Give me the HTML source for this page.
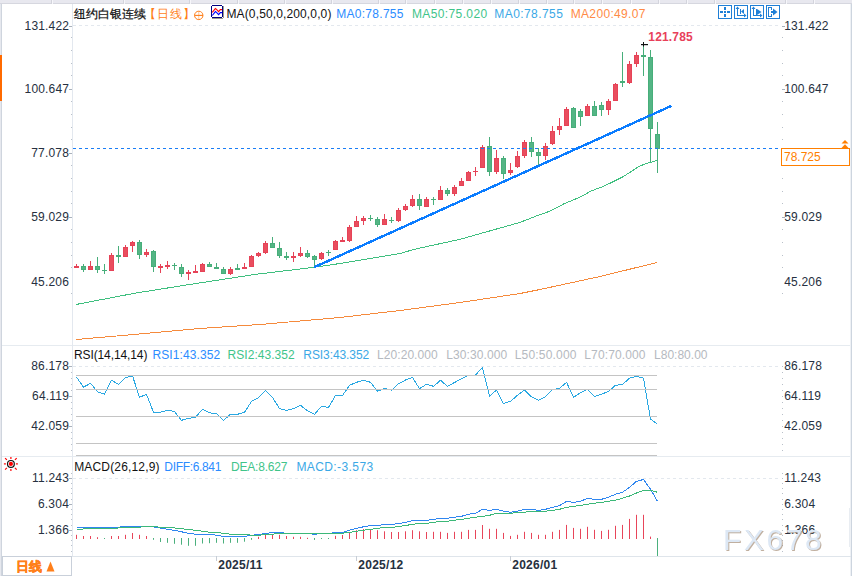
<!DOCTYPE html>
<html><head><meta charset="utf-8">
<style>
html,body{margin:0;padding:0;background:#fff;}
body{width:852px;height:576px;overflow:hidden;position:relative;font-family:"Liberation Sans",sans-serif;}
svg{position:absolute;left:0;top:0;}
svg text{font-family:"Liberation Sans",sans-serif;}
</style></head><body>
<svg width="852" height="576" viewBox="0 0 852 576">
<rect x="0" y="0" width="852" height="3" fill="#e8e8ef"/>
<rect x="0" y="3" width="852" height="1" fill="#d6d7df"/>
<rect x="51" y="0" width="1" height="4" fill="#d3d4dc"/><rect x="52" y="0" width="1" height="4" fill="#f6f6fa"/>
<rect x="123" y="0" width="1" height="4" fill="#d3d4dc"/><rect x="124" y="0" width="1" height="4" fill="#f6f6fa"/>
<rect x="189" y="0" width="1" height="4" fill="#d3d4dc"/><rect x="190" y="0" width="1" height="4" fill="#f6f6fa"/>
<rect x="237" y="0" width="1" height="4" fill="#d3d4dc"/><rect x="238" y="0" width="1" height="4" fill="#f6f6fa"/>
<rect x="284" y="0" width="1" height="4" fill="#d3d4dc"/><rect x="285" y="0" width="1" height="4" fill="#f6f6fa"/>
<rect x="331" y="0" width="1" height="4" fill="#d3d4dc"/><rect x="332" y="0" width="1" height="4" fill="#f6f6fa"/>
<rect x="378" y="0" width="1" height="4" fill="#d3d4dc"/><rect x="379" y="0" width="1" height="4" fill="#f6f6fa"/>
<rect x="405" y="0" width="1" height="4" fill="#d3d4dc"/><rect x="406" y="0" width="1" height="4" fill="#f6f6fa"/>
<rect x="434" y="0" width="1" height="4" fill="#d3d4dc"/><rect x="435" y="0" width="1" height="4" fill="#f6f6fa"/>
<rect x="462" y="0" width="1" height="4" fill="#d3d4dc"/><rect x="463" y="0" width="1" height="4" fill="#f6f6fa"/>
<rect x="490" y="0" width="1" height="4" fill="#d3d4dc"/><rect x="491" y="0" width="1" height="4" fill="#f6f6fa"/>
<rect x="518" y="0" width="1" height="4" fill="#d3d4dc"/><rect x="519" y="0" width="1" height="4" fill="#f6f6fa"/>
<rect x="546" y="0" width="1" height="4" fill="#d3d4dc"/><rect x="547" y="0" width="1" height="4" fill="#f6f6fa"/>
<rect x="573" y="0" width="1" height="4" fill="#d3d4dc"/><rect x="574" y="0" width="1" height="4" fill="#f6f6fa"/>
<rect x="601" y="0" width="1" height="4" fill="#d3d4dc"/><rect x="602" y="0" width="1" height="4" fill="#f6f6fa"/>
<rect x="630" y="0" width="1" height="4" fill="#d3d4dc"/><rect x="631" y="0" width="1" height="4" fill="#f6f6fa"/>
<rect x="658" y="0" width="1" height="4" fill="#d3d4dc"/><rect x="659" y="0" width="1" height="4" fill="#f6f6fa"/>
<rect x="686" y="0" width="1" height="4" fill="#d3d4dc"/><rect x="687" y="0" width="1" height="4" fill="#f6f6fa"/>
<rect x="714" y="0" width="1" height="4" fill="#d3d4dc"/><rect x="715" y="0" width="1" height="4" fill="#f6f6fa"/>
<rect x="785" y="0" width="1" height="4" fill="#d3d4dc"/><rect x="786" y="0" width="1" height="4" fill="#f6f6fa"/>
<rect x="813" y="0" width="1" height="4" fill="#d3d4dc"/><rect x="814" y="0" width="1" height="4" fill="#f6f6fa"/>
<rect x="0" y="4" width="1" height="572" fill="#e6e8ee"/><rect x="1" y="4" width="1" height="572" fill="#cfd5de"/>
<rect x="0" y="55" width="2" height="46" fill="#ff6a00"/>
<rect x="850" y="4" width="1" height="572" fill="#eef1f5"/><rect x="851" y="4" width="1" height="572" fill="#cdd5df"/>
<rect x="2" y="345" width="848" height="1" fill="#e6ebf0"/>
<rect x="2" y="456" width="848" height="1" fill="#e6ebf0"/>
<rect x="2" y="556" width="849" height="1" fill="#dfe5eb"/>
<rect x="849" y="508" width="1" height="39" fill="#e9edf2"/>
<rect x="72" y="4" width="1" height="552" fill="#e3e8ef"/>
<line x1="73" y1="25.5" x2="780" y2="25.5" stroke="#e3e8ee" stroke-width="1" stroke-dasharray="3 3"/>
<line x1="73" y1="366.5" x2="780" y2="366.5" stroke="#e3e8ee" stroke-width="1" stroke-dasharray="3 3"/>
<line x1="73" y1="478.5" x2="780" y2="478.5" stroke="#e3e8ee" stroke-width="1" stroke-dasharray="3 3"/>
<rect x="71" y="37" width="1" height="1" fill="#b9c0c9"/><rect x="782" y="37" width="1" height="1" fill="#b9c0c9"/><rect x="71" y="50" width="1" height="1" fill="#b9c0c9"/><rect x="782" y="50" width="1" height="1" fill="#b9c0c9"/><rect x="71" y="63" width="1" height="1" fill="#b9c0c9"/><rect x="782" y="63" width="1" height="1" fill="#b9c0c9"/><rect x="71" y="75" width="1" height="1" fill="#b9c0c9"/><rect x="782" y="75" width="1" height="1" fill="#b9c0c9"/><rect x="71" y="101" width="1" height="1" fill="#b9c0c9"/><rect x="782" y="101" width="1" height="1" fill="#b9c0c9"/><rect x="71" y="114" width="1" height="1" fill="#b9c0c9"/><rect x="782" y="114" width="1" height="1" fill="#b9c0c9"/><rect x="71" y="127" width="1" height="1" fill="#b9c0c9"/><rect x="782" y="127" width="1" height="1" fill="#b9c0c9"/><rect x="71" y="139" width="1" height="1" fill="#b9c0c9"/><rect x="782" y="139" width="1" height="1" fill="#b9c0c9"/><rect x="71" y="165" width="1" height="1" fill="#b9c0c9"/><rect x="782" y="165" width="1" height="1" fill="#b9c0c9"/><rect x="71" y="178" width="1" height="1" fill="#b9c0c9"/><rect x="782" y="178" width="1" height="1" fill="#b9c0c9"/><rect x="71" y="191" width="1" height="1" fill="#b9c0c9"/><rect x="782" y="191" width="1" height="1" fill="#b9c0c9"/><rect x="71" y="203" width="1" height="1" fill="#b9c0c9"/><rect x="782" y="203" width="1" height="1" fill="#b9c0c9"/><rect x="71" y="229" width="1" height="1" fill="#b9c0c9"/><rect x="782" y="229" width="1" height="1" fill="#b9c0c9"/><rect x="71" y="242" width="1" height="1" fill="#b9c0c9"/><rect x="782" y="242" width="1" height="1" fill="#b9c0c9"/><rect x="71" y="255" width="1" height="1" fill="#b9c0c9"/><rect x="782" y="255" width="1" height="1" fill="#b9c0c9"/><rect x="71" y="267" width="1" height="1" fill="#b9c0c9"/><rect x="782" y="267" width="1" height="1" fill="#b9c0c9"/><rect x="71" y="293" width="1" height="1" fill="#b9c0c9"/><rect x="782" y="293" width="1" height="1" fill="#b9c0c9"/><rect x="69" y="26" width="3" height="1" fill="#a9b1bb"/><rect x="782" y="26" width="3" height="1" fill="#a9b1bb"/><rect x="69" y="89" width="3" height="1" fill="#a9b1bb"/><rect x="782" y="89" width="3" height="1" fill="#a9b1bb"/><rect x="69" y="153" width="3" height="1" fill="#a9b1bb"/><rect x="782" y="153" width="3" height="1" fill="#a9b1bb"/><rect x="69" y="217" width="3" height="1" fill="#a9b1bb"/><rect x="782" y="217" width="3" height="1" fill="#a9b1bb"/><rect x="69" y="366" width="3" height="1" fill="#a9b1bb"/><rect x="782" y="366" width="1" height="1" fill="#b9c0c9"/><rect x="71" y="372" width="1" height="1" fill="#b9c0c9"/><rect x="782" y="372" width="1" height="1" fill="#b9c0c9"/><rect x="71" y="378" width="1" height="1" fill="#b9c0c9"/><rect x="782" y="378" width="1" height="1" fill="#b9c0c9"/><rect x="71" y="384" width="1" height="1" fill="#b9c0c9"/><rect x="782" y="384" width="1" height="1" fill="#b9c0c9"/><rect x="71" y="390" width="1" height="1" fill="#b9c0c9"/><rect x="782" y="390" width="1" height="1" fill="#b9c0c9"/><rect x="69" y="396" width="3" height="1" fill="#a9b1bb"/><rect x="782" y="396" width="1" height="1" fill="#b9c0c9"/><rect x="71" y="402" width="1" height="1" fill="#b9c0c9"/><rect x="782" y="402" width="1" height="1" fill="#b9c0c9"/><rect x="71" y="408" width="1" height="1" fill="#b9c0c9"/><rect x="782" y="408" width="1" height="1" fill="#b9c0c9"/><rect x="71" y="414" width="1" height="1" fill="#b9c0c9"/><rect x="782" y="414" width="1" height="1" fill="#b9c0c9"/><rect x="71" y="420" width="1" height="1" fill="#b9c0c9"/><rect x="782" y="420" width="1" height="1" fill="#b9c0c9"/><rect x="69" y="426" width="3" height="1" fill="#a9b1bb"/><rect x="782" y="426" width="1" height="1" fill="#b9c0c9"/><rect x="71" y="432" width="1" height="1" fill="#b9c0c9"/><rect x="782" y="432" width="1" height="1" fill="#b9c0c9"/><rect x="71" y="438" width="1" height="1" fill="#b9c0c9"/><rect x="782" y="438" width="1" height="1" fill="#b9c0c9"/><rect x="71" y="444" width="1" height="1" fill="#b9c0c9"/><rect x="782" y="444" width="1" height="1" fill="#b9c0c9"/><rect x="71" y="450" width="1" height="1" fill="#b9c0c9"/><rect x="782" y="450" width="1" height="1" fill="#b9c0c9"/><rect x="71" y="473" width="1" height="1" fill="#b9c0c9"/><rect x="782" y="473" width="1" height="1" fill="#b9c0c9"/><rect x="69" y="478" width="3" height="1" fill="#a9b1bb"/><rect x="782" y="478" width="1" height="1" fill="#b9c0c9"/><rect x="71" y="483" width="1" height="1" fill="#b9c0c9"/><rect x="782" y="483" width="1" height="1" fill="#b9c0c9"/><rect x="71" y="488" width="1" height="1" fill="#b9c0c9"/><rect x="782" y="488" width="1" height="1" fill="#b9c0c9"/><rect x="71" y="493" width="1" height="1" fill="#b9c0c9"/><rect x="782" y="493" width="1" height="1" fill="#b9c0c9"/><rect x="71" y="499" width="1" height="1" fill="#b9c0c9"/><rect x="782" y="499" width="1" height="1" fill="#b9c0c9"/><rect x="69" y="504" width="3" height="1" fill="#a9b1bb"/><rect x="782" y="504" width="1" height="1" fill="#b9c0c9"/><rect x="71" y="509" width="1" height="1" fill="#b9c0c9"/><rect x="782" y="509" width="1" height="1" fill="#b9c0c9"/><rect x="71" y="514" width="1" height="1" fill="#b9c0c9"/><rect x="782" y="514" width="1" height="1" fill="#b9c0c9"/><rect x="71" y="519" width="1" height="1" fill="#b9c0c9"/><rect x="782" y="519" width="1" height="1" fill="#b9c0c9"/><rect x="71" y="525" width="1" height="1" fill="#b9c0c9"/><rect x="782" y="525" width="1" height="1" fill="#b9c0c9"/><rect x="69" y="530" width="3" height="1" fill="#a9b1bb"/><rect x="782" y="530" width="1" height="1" fill="#b9c0c9"/><rect x="71" y="535" width="1" height="1" fill="#b9c0c9"/><rect x="782" y="535" width="1" height="1" fill="#b9c0c9"/><rect x="71" y="540" width="1" height="1" fill="#b9c0c9"/><rect x="782" y="540" width="1" height="1" fill="#b9c0c9"/><rect x="71" y="545" width="1" height="1" fill="#b9c0c9"/><rect x="782" y="545" width="1" height="1" fill="#b9c0c9"/><rect x="71" y="551" width="1" height="1" fill="#b9c0c9"/><rect x="782" y="551" width="1" height="1" fill="#b9c0c9"/>
<polyline points="76.0,339.5 134.0,334.5 200.0,328.5 260.0,324.5 340.0,317.5 400.0,310.5 460.0,302.5 520.0,293.5 540.0,289.5 600.0,276.5 657.0,262.5" fill="none" stroke="#f58a3c" stroke-width="1.0" stroke-linejoin="round" shape-rendering="crispEdges"/>
<polyline points="76.0,304.5 136.0,293.0 196.0,283.5 256.0,274.3 314.0,267.3 340.0,263.5 400.0,253.5 414.0,249.4 460.0,239.3 520.0,222.4 535.6,216.3 549.5,211.3 565.0,203.3 580.0,197.2 591.1,191.0 601.7,187.0 612.2,182.2 622.8,176.9 633.4,170.1 638.6,166.7 646.0,163.5 650.3,162.5 657.1,160.3" fill="none" stroke="#3fbf7f" stroke-width="1.0" stroke-linejoin="round" shape-rendering="crispEdges"/>
<g shape-rendering="crispEdges"><rect x="76" y="264" width="1" height="4" fill="#e64257"/><rect x="74" y="266" width="5" height="2" fill="#e64257"/><rect x="83" y="264" width="1" height="8" fill="#47ae7a"/><rect x="81" y="266" width="5" height="4" fill="#47ae7a"/><rect x="82" y="267" width="3" height="2" fill="#54b585"/><rect x="90" y="261" width="1" height="9" fill="#e64257"/><rect x="88" y="266" width="5" height="4" fill="#e64257"/><rect x="89" y="267" width="3" height="2" fill="#e94e5e"/><rect x="97" y="257" width="1" height="16" fill="#47ae7a"/><rect x="95" y="266" width="5" height="4" fill="#47ae7a"/><rect x="96" y="267" width="3" height="2" fill="#54b585"/><rect x="104" y="264" width="1" height="10" fill="#47ae7a"/><rect x="102" y="270" width="5" height="1" fill="#47ae7a"/><rect x="111" y="253" width="1" height="18" fill="#e64257"/><rect x="109" y="255" width="5" height="16" fill="#e64257"/><rect x="110" y="256" width="3" height="14" fill="#e94e5e"/><rect x="118" y="246" width="1" height="17" fill="#47ae7a"/><rect x="116" y="255" width="5" height="2" fill="#47ae7a"/><rect x="125" y="245" width="1" height="12" fill="#e64257"/><rect x="123" y="247" width="5" height="10" fill="#e64257"/><rect x="124" y="248" width="3" height="8" fill="#e94e5e"/><rect x="132" y="241" width="1" height="11" fill="#e64257"/><rect x="130" y="242" width="5" height="4" fill="#e64257"/><rect x="131" y="243" width="3" height="2" fill="#e94e5e"/><rect x="139" y="240" width="1" height="19" fill="#47ae7a"/><rect x="137" y="242" width="5" height="13" fill="#47ae7a"/><rect x="138" y="243" width="3" height="11" fill="#54b585"/><rect x="146" y="249" width="1" height="8" fill="#e64257"/><rect x="144" y="252" width="5" height="3" fill="#e64257"/><rect x="145" y="253" width="3" height="1" fill="#e94e5e"/><rect x="153" y="250" width="1" height="22" fill="#47ae7a"/><rect x="151" y="251" width="5" height="16" fill="#47ae7a"/><rect x="152" y="252" width="3" height="14" fill="#54b585"/><rect x="160" y="264" width="1" height="9" fill="#e64257"/><rect x="158" y="266" width="5" height="2" fill="#e64257"/><rect x="167" y="261" width="1" height="8" fill="#e64257"/><rect x="165" y="265" width="5" height="2" fill="#e64257"/><rect x="174" y="263" width="1" height="7" fill="#47ae7a"/><rect x="172" y="265" width="5" height="1" fill="#47ae7a"/><rect x="181" y="264" width="1" height="13" fill="#47ae7a"/><rect x="179" y="267" width="5" height="7" fill="#47ae7a"/><rect x="180" y="268" width="3" height="5" fill="#54b585"/><rect x="188" y="270" width="1" height="10" fill="#e64257"/><rect x="186" y="272" width="5" height="2" fill="#e64257"/><rect x="195" y="265" width="1" height="8" fill="#e64257"/><rect x="193" y="271" width="5" height="2" fill="#e64257"/><rect x="202" y="263" width="1" height="9" fill="#e64257"/><rect x="200" y="264" width="5" height="8" fill="#e64257"/><rect x="201" y="265" width="3" height="6" fill="#e94e5e"/><rect x="209" y="262" width="1" height="5" fill="#47ae7a"/><rect x="207" y="264" width="5" height="3" fill="#47ae7a"/><rect x="208" y="265" width="3" height="1" fill="#54b585"/><rect x="216" y="263" width="1" height="6" fill="#47ae7a"/><rect x="214" y="267" width="5" height="2" fill="#47ae7a"/><rect x="223" y="267" width="1" height="7" fill="#47ae7a"/><rect x="221" y="269" width="5" height="5" fill="#47ae7a"/><rect x="222" y="270" width="3" height="3" fill="#54b585"/><rect x="230" y="267" width="1" height="8" fill="#e64257"/><rect x="228" y="269" width="5" height="5" fill="#e64257"/><rect x="229" y="270" width="3" height="3" fill="#e94e5e"/><rect x="237" y="264" width="1" height="6" fill="#47ae7a"/><rect x="235" y="268" width="5" height="2" fill="#47ae7a"/><rect x="244" y="263" width="1" height="6" fill="#e64257"/><rect x="242" y="267" width="5" height="2" fill="#e64257"/><rect x="251" y="255" width="1" height="12" fill="#e64257"/><rect x="249" y="256" width="5" height="11" fill="#e64257"/><rect x="250" y="257" width="3" height="9" fill="#e94e5e"/><rect x="258" y="252" width="1" height="5" fill="#e64257"/><rect x="256" y="253" width="5" height="3" fill="#e64257"/><rect x="257" y="254" width="3" height="1" fill="#e94e5e"/><rect x="265" y="241" width="1" height="13" fill="#e64257"/><rect x="263" y="243" width="5" height="10" fill="#e64257"/><rect x="264" y="244" width="3" height="8" fill="#e94e5e"/><rect x="272" y="237" width="1" height="11" fill="#47ae7a"/><rect x="270" y="243" width="5" height="5" fill="#47ae7a"/><rect x="271" y="244" width="3" height="3" fill="#54b585"/><rect x="279" y="242" width="1" height="16" fill="#47ae7a"/><rect x="277" y="248" width="5" height="8" fill="#47ae7a"/><rect x="278" y="249" width="3" height="6" fill="#54b585"/><rect x="286" y="252" width="1" height="8" fill="#47ae7a"/><rect x="284" y="256" width="5" height="2" fill="#47ae7a"/><rect x="293" y="252" width="1" height="10" fill="#e64257"/><rect x="291" y="256" width="5" height="2" fill="#e64257"/><rect x="300" y="247" width="1" height="10" fill="#e64257"/><rect x="298" y="253" width="5" height="3" fill="#e64257"/><rect x="299" y="254" width="3" height="1" fill="#e94e5e"/><rect x="307" y="250" width="1" height="8" fill="#47ae7a"/><rect x="305" y="253" width="5" height="4" fill="#47ae7a"/><rect x="306" y="254" width="3" height="2" fill="#54b585"/><rect x="314" y="255" width="1" height="12" fill="#47ae7a"/><rect x="312" y="256" width="5" height="4" fill="#47ae7a"/><rect x="313" y="257" width="3" height="2" fill="#54b585"/><rect x="321" y="252" width="1" height="8" fill="#e64257"/><rect x="319" y="253" width="5" height="6" fill="#e64257"/><rect x="320" y="254" width="3" height="4" fill="#e94e5e"/><rect x="328" y="250" width="1" height="6" fill="#47ae7a"/><rect x="326" y="252" width="5" height="1" fill="#47ae7a"/><rect x="335" y="240" width="1" height="10" fill="#e64257"/><rect x="333" y="241" width="5" height="9" fill="#e64257"/><rect x="334" y="242" width="3" height="7" fill="#e94e5e"/><rect x="342" y="237" width="1" height="5" fill="#e64257"/><rect x="340" y="240" width="5" height="2" fill="#e64257"/><rect x="349" y="225" width="1" height="17" fill="#e64257"/><rect x="347" y="227" width="5" height="14" fill="#e64257"/><rect x="348" y="228" width="3" height="12" fill="#e94e5e"/><rect x="356" y="216" width="1" height="11" fill="#e64257"/><rect x="354" y="221" width="5" height="6" fill="#e64257"/><rect x="355" y="222" width="3" height="4" fill="#e94e5e"/><rect x="363" y="216" width="1" height="9" fill="#e64257"/><rect x="361" y="218" width="5" height="3" fill="#e64257"/><rect x="362" y="219" width="3" height="1" fill="#e94e5e"/><rect x="370" y="215" width="1" height="6" fill="#47ae7a"/><rect x="368" y="218" width="5" height="1" fill="#47ae7a"/><rect x="377" y="217" width="1" height="10" fill="#47ae7a"/><rect x="375" y="219" width="5" height="6" fill="#47ae7a"/><rect x="376" y="220" width="3" height="4" fill="#54b585"/><rect x="384" y="214" width="1" height="11" fill="#e64257"/><rect x="382" y="219" width="5" height="6" fill="#e64257"/><rect x="383" y="220" width="3" height="4" fill="#e94e5e"/><rect x="391" y="217" width="1" height="6" fill="#47ae7a"/><rect x="389" y="220" width="5" height="1" fill="#47ae7a"/><rect x="398" y="208" width="1" height="14" fill="#e64257"/><rect x="396" y="210" width="5" height="11" fill="#e64257"/><rect x="397" y="211" width="3" height="9" fill="#e94e5e"/><rect x="405" y="204" width="1" height="7" fill="#e64257"/><rect x="403" y="206" width="5" height="4" fill="#e64257"/><rect x="404" y="207" width="3" height="2" fill="#e94e5e"/><rect x="412" y="195" width="1" height="12" fill="#e64257"/><rect x="410" y="199" width="5" height="7" fill="#e64257"/><rect x="411" y="200" width="3" height="5" fill="#e94e5e"/><rect x="419" y="194" width="1" height="16" fill="#47ae7a"/><rect x="417" y="199" width="5" height="7" fill="#47ae7a"/><rect x="418" y="200" width="3" height="5" fill="#54b585"/><rect x="426" y="197" width="1" height="10" fill="#e64257"/><rect x="424" y="199" width="5" height="8" fill="#e64257"/><rect x="425" y="200" width="3" height="6" fill="#e94e5e"/><rect x="433" y="197" width="1" height="8" fill="#47ae7a"/><rect x="431" y="199" width="5" height="1" fill="#47ae7a"/><rect x="440" y="186" width="1" height="14" fill="#e64257"/><rect x="438" y="190" width="5" height="10" fill="#e64257"/><rect x="439" y="191" width="3" height="8" fill="#e94e5e"/><rect x="447" y="188" width="1" height="8" fill="#47ae7a"/><rect x="445" y="190" width="5" height="4" fill="#47ae7a"/><rect x="446" y="191" width="3" height="2" fill="#54b585"/><rect x="454" y="185" width="1" height="11" fill="#e64257"/><rect x="452" y="187" width="5" height="7" fill="#e64257"/><rect x="453" y="188" width="3" height="5" fill="#e94e5e"/><rect x="461" y="178" width="1" height="8" fill="#e64257"/><rect x="459" y="181" width="5" height="5" fill="#e64257"/><rect x="460" y="182" width="3" height="3" fill="#e94e5e"/><rect x="468" y="171" width="1" height="10" fill="#e64257"/><rect x="466" y="172" width="5" height="9" fill="#e64257"/><rect x="467" y="173" width="3" height="7" fill="#e94e5e"/><rect x="475" y="167" width="1" height="9" fill="#e64257"/><rect x="473" y="171" width="5" height="1" fill="#e64257"/><rect x="482" y="145" width="1" height="23" fill="#e64257"/><rect x="480" y="147" width="5" height="21" fill="#e64257"/><rect x="481" y="148" width="3" height="19" fill="#e94e5e"/><rect x="489" y="137" width="1" height="39" fill="#47ae7a"/><rect x="487" y="146" width="5" height="26" fill="#47ae7a"/><rect x="488" y="147" width="3" height="24" fill="#54b585"/><rect x="496" y="150" width="1" height="24" fill="#e64257"/><rect x="494" y="158" width="5" height="14" fill="#e64257"/><rect x="495" y="159" width="3" height="12" fill="#e94e5e"/><rect x="503" y="156" width="1" height="23" fill="#47ae7a"/><rect x="501" y="158" width="5" height="16" fill="#47ae7a"/><rect x="502" y="159" width="3" height="14" fill="#54b585"/><rect x="510" y="163" width="1" height="12" fill="#e64257"/><rect x="508" y="170" width="5" height="3" fill="#e64257"/><rect x="509" y="171" width="3" height="1" fill="#e94e5e"/><rect x="517" y="151" width="1" height="17" fill="#e64257"/><rect x="515" y="156" width="5" height="11" fill="#e64257"/><rect x="516" y="157" width="3" height="9" fill="#e94e5e"/><rect x="524" y="140" width="1" height="18" fill="#e64257"/><rect x="522" y="142" width="5" height="14" fill="#e64257"/><rect x="523" y="143" width="3" height="12" fill="#e94e5e"/><rect x="531" y="137" width="1" height="20" fill="#47ae7a"/><rect x="529" y="142" width="5" height="10" fill="#47ae7a"/><rect x="530" y="143" width="3" height="8" fill="#54b585"/><rect x="538" y="148" width="1" height="17" fill="#47ae7a"/><rect x="536" y="152" width="5" height="4" fill="#47ae7a"/><rect x="537" y="153" width="3" height="2" fill="#54b585"/><rect x="545" y="143" width="1" height="17" fill="#e64257"/><rect x="543" y="146" width="5" height="10" fill="#e64257"/><rect x="544" y="147" width="3" height="8" fill="#e94e5e"/><rect x="552" y="126" width="1" height="19" fill="#e64257"/><rect x="550" y="131" width="5" height="13" fill="#e64257"/><rect x="551" y="132" width="3" height="11" fill="#e94e5e"/><rect x="559" y="118" width="1" height="17" fill="#e64257"/><rect x="557" y="126" width="5" height="4" fill="#e64257"/><rect x="558" y="127" width="3" height="2" fill="#e94e5e"/><rect x="566" y="107" width="1" height="19" fill="#e64257"/><rect x="564" y="109" width="5" height="17" fill="#e64257"/><rect x="565" y="110" width="3" height="15" fill="#e94e5e"/><rect x="573" y="107" width="1" height="21" fill="#47ae7a"/><rect x="571" y="108" width="5" height="20" fill="#47ae7a"/><rect x="572" y="109" width="3" height="18" fill="#54b585"/><rect x="580" y="109" width="1" height="17" fill="#47ae7a"/><rect x="578" y="111" width="5" height="6" fill="#47ae7a"/><rect x="579" y="112" width="3" height="4" fill="#54b585"/><rect x="587" y="104" width="1" height="12" fill="#e64257"/><rect x="585" y="106" width="5" height="10" fill="#e64257"/><rect x="586" y="107" width="3" height="8" fill="#e94e5e"/><rect x="594" y="101" width="1" height="15" fill="#47ae7a"/><rect x="592" y="106" width="5" height="10" fill="#47ae7a"/><rect x="593" y="107" width="3" height="8" fill="#54b585"/><rect x="601" y="102" width="1" height="14" fill="#47ae7a"/><rect x="599" y="105" width="5" height="5" fill="#47ae7a"/><rect x="600" y="106" width="3" height="3" fill="#54b585"/><rect x="608" y="99" width="1" height="16" fill="#e64257"/><rect x="606" y="101" width="5" height="9" fill="#e64257"/><rect x="607" y="102" width="3" height="7" fill="#e94e5e"/><rect x="615" y="83" width="1" height="18" fill="#e64257"/><rect x="613" y="84" width="5" height="17" fill="#e64257"/><rect x="614" y="85" width="3" height="15" fill="#e94e5e"/><rect x="622" y="52" width="1" height="35" fill="#47ae7a"/><rect x="620" y="81" width="5" height="2" fill="#47ae7a"/><rect x="629" y="61" width="1" height="23" fill="#e64257"/><rect x="627" y="64" width="5" height="19" fill="#e64257"/><rect x="628" y="65" width="3" height="17" fill="#e94e5e"/><rect x="636" y="52" width="1" height="15" fill="#e64257"/><rect x="634" y="55" width="5" height="9" fill="#e64257"/><rect x="635" y="56" width="3" height="7" fill="#e94e5e"/><rect x="643" y="45" width="1" height="31" fill="#47ae7a"/><rect x="641" y="55" width="5" height="2" fill="#47ae7a"/><rect x="650" y="50" width="1" height="112" fill="#47ae7a"/><rect x="648" y="57" width="5" height="72" fill="#47ae7a"/><rect x="649" y="58" width="3" height="70" fill="#54b585"/><rect x="657" y="122" width="1" height="51" fill="#47ae7a"/><rect x="655" y="134" width="5" height="15" fill="#47ae7a"/><rect x="656" y="135" width="3" height="13" fill="#54b585"/></g>
<line x1="73" y1="148.5" x2="779" y2="148.5" stroke="#1a7df5" stroke-width="1.2" stroke-dasharray="3 3"/>
<line x1="314" y1="267.3" x2="671.5" y2="105.8" stroke="#0a7cff" stroke-width="2.4" stroke-linecap="butt" shape-rendering="crispEdges"/>
<rect x="641" y="44" width="7" height="1.2" fill="#111"/><rect x="643" y="42" width="1" height="4.5" fill="#111"/>
<polyline points="76.5,377.0 83.5,387.2 90.5,383.3 97.5,391.7 104.5,394.3 111.5,380.3 118.5,384.2 125.5,377.8 132.5,375.8 139.5,397.3 146.5,394.3 153.5,412.3 160.5,412.3 167.5,410.1 174.5,411.6 181.5,420.3 188.5,418.3 195.5,417.3 202.5,409.3 209.5,412.8 216.5,413.8 223.5,420.3 230.5,414.3 237.5,414.3 244.5,412.3 251.5,401.4 258.5,397.8 265.5,390.2 272.5,397.3 279.5,408.6 286.5,410.4 293.5,408.6 300.5,405.3 307.5,410.8 314.5,414.3 321.5,406.3 328.5,407.5 335.5,395.5 342.5,395.5 349.5,385.3 356.5,382.3 363.5,380.3 370.5,382.3 377.5,391.3 384.5,388.3 391.5,390.2 398.5,383.8 405.5,380.0 412.5,377.3 419.5,388.7 426.5,384.2 433.5,386.3 440.5,380.3 447.5,386.3 454.5,382.5 461.5,378.8 468.5,375.3 475.5,375.0 482.5,367.5 489.5,396.1 496.5,390.0 503.5,403.6 510.5,401.3 517.5,395.3 524.5,390.0 531.5,396.8 538.5,400.3 545.5,396.8 552.5,389.7 559.5,388.5 566.5,382.3 573.5,397.3 580.5,392.8 587.5,389.3 594.5,396.6 601.5,394.3 608.5,391.3 615.5,385.3 622.5,384.5 629.5,378.2 636.5,376.3 643.5,378.2 650.5,419.1 657.5,424.3" fill="none" stroke="#2aa8e2" stroke-width="1.0" stroke-linejoin="round" shape-rendering="crispEdges"/>
<rect x="76" y="375" width="581" height="1" fill="#c4c4c4"/>
<rect x="76" y="389" width="581" height="1" fill="#c4c4c4"/>
<rect x="76" y="416" width="581" height="1" fill="#c4c4c4"/>
<rect x="76" y="443" width="581" height="1" fill="#c4c4c4"/>
<rect x="76" y="455" width="581" height="1" fill="#c4c4c4"/>
<g><rect x="76" y="534.8" width="1" height="4.2" fill="#e8455a"/><rect x="83" y="536.0" width="1" height="3.0" fill="#e8455a"/><rect x="90" y="536.0" width="1" height="3.0" fill="#e8455a"/><rect x="97" y="537.2" width="1" height="1.8" fill="#e8455a"/><rect x="104" y="538" width="1" height="1.0" fill="#4bb07d"/><rect x="111" y="536.0" width="1" height="3.0" fill="#e8455a"/><rect x="118" y="536.0" width="1" height="3.0" fill="#e8455a"/><rect x="125" y="534.8" width="1" height="4.2" fill="#e8455a"/><rect x="132" y="533.0" width="1" height="6.0" fill="#e8455a"/><rect x="139" y="534.8" width="1" height="4.2" fill="#e8455a"/><rect x="146" y="536.0" width="1" height="3.0" fill="#e8455a"/><rect x="153" y="538" width="1" height="1.8" fill="#4bb07d"/><rect x="160" y="538" width="1" height="4.0" fill="#4bb07d"/><rect x="167" y="538" width="1" height="4.8" fill="#4bb07d"/><rect x="174" y="538" width="1" height="5.8" fill="#4bb07d"/><rect x="181" y="538" width="1" height="6.7" fill="#4bb07d"/><rect x="188" y="538" width="1" height="7.8" fill="#4bb07d"/><rect x="195" y="538" width="1" height="7.8" fill="#4bb07d"/><rect x="202" y="538" width="1" height="5.5" fill="#4bb07d"/><rect x="209" y="538" width="1" height="5.2" fill="#4bb07d"/><rect x="216" y="538" width="1" height="4.8" fill="#4bb07d"/><rect x="223" y="538" width="1" height="5.5" fill="#4bb07d"/><rect x="230" y="538" width="1" height="4.8" fill="#4bb07d"/><rect x="237" y="538" width="1" height="4.8" fill="#4bb07d"/><rect x="244" y="538" width="1" height="3.7" fill="#4bb07d"/><rect x="251" y="538" width="1" height="1.8" fill="#4bb07d"/><rect x="258" y="536.8" width="1" height="2.2" fill="#e8455a"/><rect x="265" y="534.5" width="1" height="4.5" fill="#e8455a"/><rect x="272" y="534.2" width="1" height="4.8" fill="#e8455a"/><rect x="279" y="534.8" width="1" height="4.2" fill="#e8455a"/><rect x="286" y="536.0" width="1" height="3.0" fill="#e8455a"/><rect x="293" y="536.8" width="1" height="2.2" fill="#e8455a"/><rect x="300" y="536.8" width="1" height="2.2" fill="#e8455a"/><rect x="307" y="537.8" width="1" height="1.2" fill="#e8455a"/><rect x="314" y="538" width="1" height="1.9" fill="#4bb07d"/><rect x="321" y="538" width="1" height="1.0" fill="#4bb07d"/><rect x="328" y="538" width="1" height="1.0" fill="#4bb07d"/><rect x="335" y="535.8" width="1" height="3.2" fill="#e8455a"/><rect x="342" y="535.0" width="1" height="4.0" fill="#e8455a"/><rect x="349" y="532.8" width="1" height="6.2" fill="#e8455a"/><rect x="356" y="530.2" width="1" height="8.8" fill="#e8455a"/><rect x="363" y="529.0" width="1" height="10.0" fill="#e8455a"/><rect x="370" y="529.0" width="1" height="10.0" fill="#e8455a"/><rect x="377" y="530.2" width="1" height="8.8" fill="#e8455a"/><rect x="384" y="531.3" width="1" height="7.7" fill="#e8455a"/><rect x="391" y="532.0" width="1" height="7.0" fill="#e8455a"/><rect x="398" y="532.0" width="1" height="7.0" fill="#e8455a"/><rect x="405" y="531.3" width="1" height="7.7" fill="#e8455a"/><rect x="412" y="530.2" width="1" height="8.8" fill="#e8455a"/><rect x="419" y="531.3" width="1" height="7.7" fill="#e8455a"/><rect x="426" y="532.0" width="1" height="7.0" fill="#e8455a"/><rect x="433" y="531.8" width="1" height="7.2" fill="#e8455a"/><rect x="440" y="531.8" width="1" height="7.2" fill="#e8455a"/><rect x="447" y="532.9" width="1" height="6.1" fill="#e8455a"/><rect x="454" y="531.8" width="1" height="7.2" fill="#e8455a"/><rect x="461" y="531.8" width="1" height="7.2" fill="#e8455a"/><rect x="468" y="529.9" width="1" height="9.1" fill="#e8455a"/><rect x="475" y="529.9" width="1" height="9.1" fill="#e8455a"/><rect x="482" y="525.0" width="1" height="14.0" fill="#e8455a"/><rect x="489" y="528.8" width="1" height="10.2" fill="#e8455a"/><rect x="496" y="528.8" width="1" height="10.2" fill="#e8455a"/><rect x="503" y="532.9" width="1" height="6.1" fill="#e8455a"/><rect x="510" y="535.9" width="1" height="3.1" fill="#e8455a"/><rect x="517" y="534.8" width="1" height="4.2" fill="#e8455a"/><rect x="524" y="531.8" width="1" height="7.2" fill="#e8455a"/><rect x="531" y="532.9" width="1" height="6.1" fill="#e8455a"/><rect x="538" y="534.8" width="1" height="4.2" fill="#e8455a"/><rect x="545" y="534.8" width="1" height="4.2" fill="#e8455a"/><rect x="552" y="531.8" width="1" height="7.2" fill="#e8455a"/><rect x="559" y="529.9" width="1" height="9.1" fill="#e8455a"/><rect x="566" y="524.9" width="1" height="14.1" fill="#e8455a"/><rect x="573" y="527.9" width="1" height="11.1" fill="#e8455a"/><rect x="580" y="528.8" width="1" height="10.2" fill="#e8455a"/><rect x="587" y="526.8" width="1" height="12.2" fill="#e8455a"/><rect x="594" y="529.8" width="1" height="9.2" fill="#e8455a"/><rect x="601" y="530.9" width="1" height="8.1" fill="#e8455a"/><rect x="608" y="529.8" width="1" height="9.2" fill="#e8455a"/><rect x="615" y="525.8" width="1" height="13.2" fill="#e8455a"/><rect x="622" y="524.9" width="1" height="14.1" fill="#e8455a"/><rect x="629" y="518.9" width="1" height="20.1" fill="#e8455a"/><rect x="636" y="514.8" width="1" height="24.2" fill="#e8455a"/><rect x="643" y="514.8" width="1" height="24.2" fill="#e8455a"/><rect x="650" y="536.6" width="1" height="2.4" fill="#e8455a"/><rect x="657" y="538" width="1" height="18.0" fill="#4bb07d"/></g>
<polyline points="76.5,527.3 83.5,527.3 90.5,527.4 97.5,527.4 104.5,527.5 111.5,527.5 118.5,527.1 125.5,526.7 132.5,526.3 139.5,526.3 146.5,526.3 153.5,527.0 160.5,528.0 167.5,529.3 174.5,530.3 181.5,531.8 188.5,533.3 195.5,534.2 202.5,534.2 209.5,534.2 216.5,535.3 223.5,536.3 230.5,536.3 237.5,536.3 244.5,536.3 251.5,535.3 258.5,534.5 265.5,533.5 272.5,532.4 279.5,532.4 286.5,533.3 293.5,533.3 300.5,533.3 307.5,533.3 314.5,534.3 321.5,533.5 328.5,533.5 335.5,532.5 342.5,532.5 349.5,530.2 356.5,528.3 363.5,526.8 370.5,525.6 377.5,525.6 384.5,524.5 391.5,524.5 398.5,523.5 405.5,522.4 412.5,520.5 419.5,520.5 426.5,520.5 433.5,519.3 440.5,518.3 447.5,518.3 454.5,517.2 461.5,516.3 468.5,514.2 475.5,513.3 482.5,509.3 489.5,510.3 496.5,509.3 503.5,511.2 510.5,512.3 517.5,511.2 524.5,509.3 531.5,509.3 538.5,510.3 545.5,509.3 552.5,507.3 559.5,505.7 566.5,501.3 573.5,502.3 580.5,501.3 587.5,498.3 594.5,499.3 601.5,499.3 608.5,497.2 615.5,494.2 622.5,492.3 629.5,487.3 636.5,481.3 643.5,479.5 650.5,489.3 657.5,501.3" fill="none" stroke="#2f86f0" stroke-width="1.0" stroke-linejoin="round" shape-rendering="crispEdges"/>
<polyline points="76.5,529.3 83.5,529.0 90.5,528.8 97.5,528.5 104.5,528.3 111.5,528.2 118.5,528.0 125.5,527.9 132.5,527.8 139.5,527.1 146.5,526.5 153.5,526.5 160.5,527.3 167.5,527.6 174.5,528.0 181.5,528.8 188.5,529.5 195.5,530.3 202.5,531.2 209.5,532.3 216.5,532.3 223.5,533.3 230.5,534.2 237.5,534.2 244.5,534.2 251.5,535.3 258.5,535.3 265.5,534.5 272.5,534.2 279.5,533.3 286.5,533.3 293.5,533.4 300.5,533.4 307.5,533.5 314.5,533.5 321.5,533.5 328.5,533.5 335.5,533.5 342.5,533.2 349.5,532.5 356.5,531.3 363.5,530.2 370.5,529.3 377.5,528.3 384.5,527.5 391.5,527.5 398.5,526.5 405.5,525.4 412.5,524.5 419.5,523.3 426.5,523.3 433.5,522.4 440.5,521.4 447.5,521.3 454.5,520.2 461.5,519.3 468.5,518.3 475.5,517.2 482.5,516.3 489.5,515.3 496.5,513.3 503.5,513.3 510.5,513.3 517.5,512.3 524.5,512.3 531.5,511.2 538.5,511.2 545.5,511.2 552.5,510.3 559.5,509.3 566.5,507.3 573.5,506.3 580.5,505.3 587.5,504.3 594.5,503.2 601.5,502.3 608.5,501.3 615.5,500.2 622.5,498.3 629.5,496.0 636.5,493.0 643.5,490.3 650.5,490.3 657.5,492.3" fill="none" stroke="#3cb878" stroke-width="1.0" stroke-linejoin="round" shape-rendering="crispEdges"/>
<g stroke="#ff7f1a" fill="none"><circle cx="198.75" cy="15.4" r="4.2" stroke-width="1"/><line x1="194.5" y1="15.4" x2="203" y2="15.4" stroke-width="1.1"/><line x1="198.75" y1="11.2" x2="198.75" y2="19.6" stroke-width="0.8" stroke-opacity="0.55"/></g>
<g shape-rendering="crispEdges"><rect x="212" y="18" width="11" height="1" fill="#9a9a88"/><rect x="223" y="6" width="1" height="12" fill="#9a9a88"/><rect x="212" y="5" width="10" height="1" fill="#000080"/><rect x="212" y="17" width="10" height="1" fill="#000080"/><rect x="211" y="6" width="1" height="11" fill="#000080"/><rect x="222" y="6" width="1" height="11" fill="#000080"/></g>
<polyline points="212.3,12.4 215.4,8.5 216.5,9.3 218.6,11.6 220.3,9.6 222,9.6" fill="none" stroke="#ff0000" stroke-width="1.1"/>
<polyline points="212.3,15.5 215.4,11.6 216.5,12.4 218.6,14.7 220.3,12.6 222,12.6" fill="none" stroke="#0000ff" stroke-width="1.1"/>
<rect x="718.5" y="5.5" width="13" height="13" fill="#fff" stroke="#1f7fd6" stroke-width="1"/>
<rect x="734.5" y="5.5" width="13" height="13" fill="#fff" stroke="#1f7fd6" stroke-width="1"/>
<rect x="750.5" y="5.5" width="13" height="13" fill="#fff" stroke="#1f7fd6" stroke-width="1"/>
<rect x="766.5" y="5.5" width="13" height="13" fill="#fff" stroke="#1f7fd6" stroke-width="1"/>
<g fill="#1f7fd6" shape-rendering="crispEdges"><rect x="720" y="11" width="3" height="2"/><rect x="727" y="11" width="3" height="2"/><rect x="724" y="11" width="2" height="2"/><rect x="724" y="7" width="2" height="3"/><rect x="724" y="14" width="2" height="3"/></g>
<g fill="#1f7fd6"><rect x="737" y="8" width="1" height="8"/><polygon points="737.5,6.5 735.5,9 739.5,9"/><rect x="737" y="15" width="8" height="1"/><polygon points="746.5,15.5 744,13.5 744,17.5"/><rect x="740" y="9" width="1" height="5"/><polygon points="741,11.5 744,9 744,14"/></g>
<g fill="#1f7fd6"><rect x="753" y="8" width="1" height="8"/><polygon points="753.5,6.5 751.5,9 755.5,9"/><rect x="753" y="15" width="8" height="1"/><polygon points="762.5,15.5 760,13.5 760,17.5"/><rect x="756" y="9" width="1" height="6"/><polygon points="757,9 761.5,12 757,15"/></g>
<g fill="#1f7fd6" shape-rendering="crispEdges"><rect x="768" y="7" width="4" height="1"/><rect x="768" y="7" width="1" height="10"/><rect x="768" y="16" width="4" height="1"/><rect x="771" y="7" width="1" height="3"/><rect x="771" y="14" width="1" height="3"/><rect x="771" y="11" width="3" height="2"/></g>
<polygon points="773,8.5 777.5,12 773,15.5" fill="#1f7fd6"/>
<rect x="781.5" y="148.5" width="68" height="17" fill="#fff" stroke="#ff7f00" stroke-width="1"/>
<polygon points="845,140 841.5,143.5 848.5,143.5" fill="#ff7f00"/><polygon points="845,144.3 841.3,148.3 848.7,148.3" fill="#ff7f00"/>
<g><circle cx="10.9" cy="463.9" r="3.4" fill="#fff" stroke="#111" stroke-width="1.2"/><circle cx="10.9" cy="463.9" r="2.1" fill="#ff0000"/></g>
<g stroke="#ff0000" stroke-width="1.2"><line x1="15.90" y1="463.90" x2="17.90" y2="463.90"/><line x1="14.93" y1="467.93" x2="16.70" y2="469.70"/><line x1="10.90" y1="468.90" x2="10.90" y2="470.90"/><line x1="6.87" y1="467.93" x2="5.10" y2="469.70"/><line x1="5.90" y1="463.90" x2="3.90" y2="463.90"/><line x1="6.87" y1="459.87" x2="5.10" y2="458.10"/><line x1="10.90" y1="458.90" x2="10.90" y2="456.90"/><line x1="14.93" y1="459.87" x2="16.70" y2="458.10"/></g>
<rect x="2.5" y="556.5" width="69" height="19" fill="#fff" stroke="#c9d0da" stroke-width="1"/>
<polygon points="50.5,561.5 46.5,571.5 54.5,571.5" fill="#ff7f1a"/>
<rect x="216" y="556" width="1" height="5" fill="#c7cdd5"/>
<rect x="356" y="556" width="1" height="5" fill="#c7cdd5"/>
<rect x="510" y="556" width="1" height="5" fill="#c7cdd5"/>
<text x="68.9" y="30" fill="#263040" font-size="12" text-anchor="end" font-weight="normal" textLength="44.36" lengthAdjust="spacing" >131.422</text>
<text x="784.2" y="30" fill="#263040" font-size="12" text-anchor="start" font-weight="normal" textLength="44.36" lengthAdjust="spacing" >131.422</text>
<text x="68.9" y="93" fill="#263040" font-size="12" text-anchor="end" font-weight="normal" textLength="44.36" lengthAdjust="spacing" >100.647</text>
<text x="784.2" y="93" fill="#263040" font-size="12" text-anchor="start" font-weight="normal" textLength="44.36" lengthAdjust="spacing" >100.647</text>
<text x="68.9" y="157" fill="#263040" font-size="12" text-anchor="end" font-weight="normal" textLength="37.69" lengthAdjust="spacing" >77.078</text>
<text x="68.9" y="221" fill="#263040" font-size="12" text-anchor="end" font-weight="normal" textLength="37.69" lengthAdjust="spacing" >59.029</text>
<text x="784.2" y="221" fill="#263040" font-size="12" text-anchor="start" font-weight="normal" textLength="37.69" lengthAdjust="spacing" >59.029</text>
<text x="68.9" y="286" fill="#263040" font-size="12" text-anchor="end" font-weight="normal" textLength="37.69" lengthAdjust="spacing" >45.206</text>
<text x="784.2" y="286" fill="#263040" font-size="12" text-anchor="start" font-weight="normal" textLength="37.69" lengthAdjust="spacing" >45.206</text>
<text x="68.9" y="370" fill="#263040" font-size="12" text-anchor="end" font-weight="normal" textLength="37.69" lengthAdjust="spacing" >86.178</text>
<text x="784.2" y="370" fill="#263040" font-size="12" text-anchor="start" font-weight="normal" textLength="37.69" lengthAdjust="spacing" >86.178</text>
<text x="68.9" y="400" fill="#263040" font-size="12" text-anchor="end" font-weight="normal" textLength="36.80" lengthAdjust="spacing" >64.119</text>
<text x="784.2" y="400" fill="#263040" font-size="12" text-anchor="start" font-weight="normal" textLength="36.80" lengthAdjust="spacing" >64.119</text>
<text x="68.9" y="430" fill="#263040" font-size="12" text-anchor="end" font-weight="normal" textLength="37.69" lengthAdjust="spacing" >42.059</text>
<text x="784.2" y="430" fill="#263040" font-size="12" text-anchor="start" font-weight="normal" textLength="37.69" lengthAdjust="spacing" >42.059</text>
<text x="68.9" y="482" fill="#263040" font-size="12" text-anchor="end" font-weight="normal" textLength="36.80" lengthAdjust="spacing" >11.243</text>
<text x="784.2" y="482" fill="#263040" font-size="12" text-anchor="start" font-weight="normal" textLength="36.80" lengthAdjust="spacing" >11.243</text>
<text x="68.9" y="508" fill="#263040" font-size="12" text-anchor="end" font-weight="normal" textLength="31.02" lengthAdjust="spacing" >6.304</text>
<text x="784.2" y="508" fill="#263040" font-size="12" text-anchor="start" font-weight="normal" textLength="31.02" lengthAdjust="spacing" >6.304</text>
<text x="68.9" y="534" fill="#263040" font-size="12" text-anchor="end" font-weight="normal" textLength="31.02" lengthAdjust="spacing" >1.366</text>
<text x="784.2" y="534" fill="#263040" font-size="12" text-anchor="start" font-weight="normal" textLength="31.02" lengthAdjust="spacing" >1.366</text>
<text x="74.3" y="17.8" fill="#111" font-size="12" text-anchor="start" font-weight="normal" stroke="#111" stroke-width="0.25">纽约白银连续</text>
<text x="143.6" y="17.8" fill="#ff7f1a" font-size="12" text-anchor="start" font-weight="normal" letter-spacing="1.1">【日线】</text>
<text x="226.5" y="18" fill="#111" font-size="12" text-anchor="start" font-weight="normal" textLength="104.89" lengthAdjust="spacing" >MA(0,50,0,200,0,0)</text>
<text x="336.2" y="18" fill="#2b8cff" font-size="12" text-anchor="start" font-weight="normal" textLength="67.29" lengthAdjust="spacing" >MA0:78.755</text>
<text x="412.0" y="18" fill="#3fc48a" font-size="12" text-anchor="start" font-weight="normal" textLength="75.16" lengthAdjust="spacing" >MA50:75.020</text>
<text x="494.3" y="18" fill="#3aa8e6" font-size="12" text-anchor="start" font-weight="normal" textLength="68.59" lengthAdjust="spacing" >MA0:78.755</text>
<text x="570.7" y="18" fill="#ff8a45" font-size="12" text-anchor="start" font-weight="normal" textLength="74.76" lengthAdjust="spacing" >MA200:49.07</text>
<text x="74.0" y="358.6" fill="#111" font-size="12" text-anchor="start" font-weight="normal" textLength="73.39" lengthAdjust="spacing" >RSI(14,14,14)</text>
<text x="152.4" y="358.6" fill="#2b8cff" font-size="12" text-anchor="start" font-weight="normal" textLength="67.89" lengthAdjust="spacing" >RSI1:43.352</text>
<text x="227.6" y="358.6" fill="#3fc48a" font-size="12" text-anchor="start" font-weight="normal" textLength="67.09" lengthAdjust="spacing" >RSI2:43.352</text>
<text x="303.3" y="358.6" fill="#3aa8e6" font-size="12" text-anchor="start" font-weight="normal" textLength="65.89" lengthAdjust="spacing" >RSI3:43.352</text>
<text x="377.1" y="358.6" fill="#b5b9c0" font-size="12" text-anchor="start" font-weight="normal" textLength="60.53" lengthAdjust="spacing" >L20:20.000</text>
<text x="446.2" y="358.6" fill="#b5b9c0" font-size="12" text-anchor="start" font-weight="normal" textLength="60.93" lengthAdjust="spacing" >L30:30.000</text>
<text x="514.7" y="358.6" fill="#b5b9c0" font-size="12" text-anchor="start" font-weight="normal" textLength="61.83" lengthAdjust="spacing" >L50:50.000</text>
<text x="584.3" y="358.6" fill="#b5b9c0" font-size="12" text-anchor="start" font-weight="normal" textLength="61.23" lengthAdjust="spacing" >L70:70.000</text>
<text x="654.1" y="358.6" fill="#b5b9c0" font-size="12" text-anchor="start" font-weight="normal" >L80:80.00</text>
<text x="74.2" y="470.5" fill="#111" font-size="12" text-anchor="start" font-weight="normal" textLength="85.36" lengthAdjust="spacing" >MACD(26,12,9)</text>
<text x="164.3" y="470.5" fill="#2b8cff" font-size="12" text-anchor="start" font-weight="normal" textLength="57.10" lengthAdjust="spacing" >DIFF:6.841</text>
<text x="231.0" y="470.5" fill="#3fc48a" font-size="12" text-anchor="start" font-weight="normal" textLength="56.42" lengthAdjust="spacing" >DEA:8.627</text>
<text x="296.4" y="470.5" fill="#3aa8e6" font-size="12" text-anchor="start" font-weight="normal" textLength="76.79" lengthAdjust="spacing" >MACD:-3.573</text>
<text x="648.3" y="41" fill="#e8405a" font-size="12" text-anchor="start" font-weight="bold" textLength="44.46" lengthAdjust="spacing" >121.785</text>
<text x="15.8" y="570.8" fill="#ff7f1a" font-size="13" text-anchor="start" font-weight="bold" stroke="#ff7f1a" stroke-width="0.45">日线</text>
<text x="784.0" y="161" fill="#ff7f00" font-size="12" text-anchor="start" font-weight="normal" >78.725</text>
<text x="723" y="550.2" fill="#dde8f5" font-size="30" letter-spacing="2.6" style="filter:drop-shadow(1px 1px 0.6px rgba(140,110,80,0.55))">FX678</text>
<text x="218.20000000000002" y="569" fill="#263040" font-size="12" text-anchor="start" font-weight="bold" textLength="44.30" lengthAdjust="spacing" >2025/11</text>
<text x="358.29999999999995" y="569" fill="#263040" font-size="12" text-anchor="start" font-weight="bold" textLength="44.96" lengthAdjust="spacing" >2025/12</text>
<text x="512.2" y="569" fill="#263040" font-size="12" text-anchor="start" font-weight="bold" textLength="44.96" lengthAdjust="spacing" >2026/01</text>
</svg>
</body></html>
